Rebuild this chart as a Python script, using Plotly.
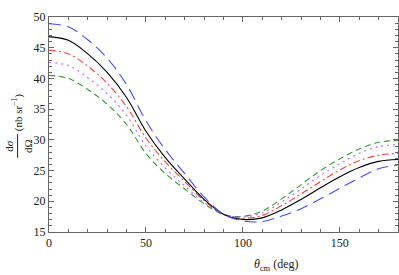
import plotly.graph_objects as go

theta = [0, 10, 20, 30, 40, 50, 60, 70, 80, 90, 100, 110, 120, 130, 140, 150, 160, 170, 180]

black = [46.8, 46.2, 44.0, 41.0, 36.9, 31.4, 27.1, 23.6, 20.3, 17.9, 17.05, 17.3, 18.6, 20.3, 22.2, 24.0, 25.5, 26.5, 26.8]
blue = [48.9, 48.4, 46.3, 43.3, 39.0, 33.1, 28.4, 24.5, 20.7, 17.9, 16.8, 16.7, 17.6, 18.8, 20.4, 22.1, 23.8, 25.3, 25.9]
red = [44.6, 44.0, 42.0, 39.2, 35.4, 30.3, 26.4, 23.2, 20.1, 17.9, 17.25, 17.7, 19.3, 21.2, 23.2, 25.1, 26.6, 27.5, 27.8]
purple = [42.6, 42.1, 40.1, 37.5, 34.0, 29.0, 25.4, 22.5, 19.8, 17.9, 17.45, 18.1, 19.9, 22.0, 24.2, 26.1, 27.8, 28.9, 29.2]
green = [40.5, 40.0, 38.2, 35.8, 32.5, 27.8, 24.5, 22.0, 19.6, 17.85, 17.55, 18.4, 20.4, 22.7, 25.0, 26.9, 28.5, 29.6, 29.9]

xticks = [0, 50, 100, 150]
yticks = [15, 20, 25, 30, 35, 40, 45, 50]

series = [
    (green, "#3a9a3a", "6px,4px"),
    (purple, "#b866ff", "2px,4px"),
    (red, "#ff4040", "7px,3px,2px,3px"),
    (black, "#000000", "solid"),
    (blue, "#4a4aff", "12px,6px"),
]

fig = go.Figure()
for ys, col, dash in series:
    fig.add_trace(go.Scatter(x=theta, y=ys, mode="lines",
                             line=dict(color=col, width=1.1, dash=dash, shape="spline", smoothing=1.0),
                             showlegend=False, hoverinfo="skip"))

ff = "Liberation Serif, Times New Roman, serif"
font = dict(family=ff, size=12, color="#222")

fig.update_layout(
    width=399, height=275,
    margin=dict(l=49, r=1, t=17, b=43),
    paper_bgcolor="white", plot_bgcolor="white",
    font=font,
    xaxis=dict(range=[0, 180], tickvals=xticks, ticks="inside", ticklen=5, tickcolor="#666",
               showline=True, linecolor="#666", linewidth=1, mirror="ticks", showgrid=False, zeroline=False,
               minor=dict(dtick=10, ticks="inside", ticklen=3, tickcolor="#666", showgrid=False),
               tickfont=font),
    yaxis=dict(range=[15, 50], tickvals=yticks, ticks="inside", ticklen=5, tickcolor="#666",
               showline=True, linecolor="#666", linewidth=1, mirror="ticks", showgrid=False, zeroline=False,
               minor=dict(dtick=1, ticks="inside", ticklen=3, tickcolor="#666", showgrid=False),
               tickfont=font),
)

# x-axis title
fig.add_annotation(text="<i>θ</i><sub>cm</sub> (deg)", xref="paper", yref="paper", x=0.65, y=-0.155,
                   xanchor="center", yanchor="middle", showarrow=False, font=dict(family=ff, size=12, color="#222"))
# y-axis title as rotated fraction
fig.add_annotation(text="d<i>σ</i>", xref="paper", yref="paper", x=-0.115, y=0.40,
                   xanchor="center", yanchor="middle", showarrow=False, textangle=-90,
                   font=dict(family=ff, size=11, color="#222"))
fig.add_annotation(text="dΩ", xref="paper", yref="paper", x=-0.06, y=0.40,
                   xanchor="center", yanchor="middle", showarrow=False, textangle=-90,
                   font=dict(family=ff, size=11, color="#222"))
fig.add_shape(type="line", xref="paper", yref="paper", x0=-0.09, x1=-0.09, y0=0.345, y1=0.455,
              line=dict(color="#222", width=1))
fig.add_annotation(text="(nb sr<sup>−1</sup>)", xref="paper", yref="paper", x=-0.09, y=0.555,
                   xanchor="center", yanchor="middle", showarrow=False, textangle=-90,
                   font=dict(family=ff, size=11, color="#222"))

fig.write_html("out.html", config={"displayModeBar": False},
               post_script="document.body.style.margin='0';document.body.style.overflow='hidden';")
